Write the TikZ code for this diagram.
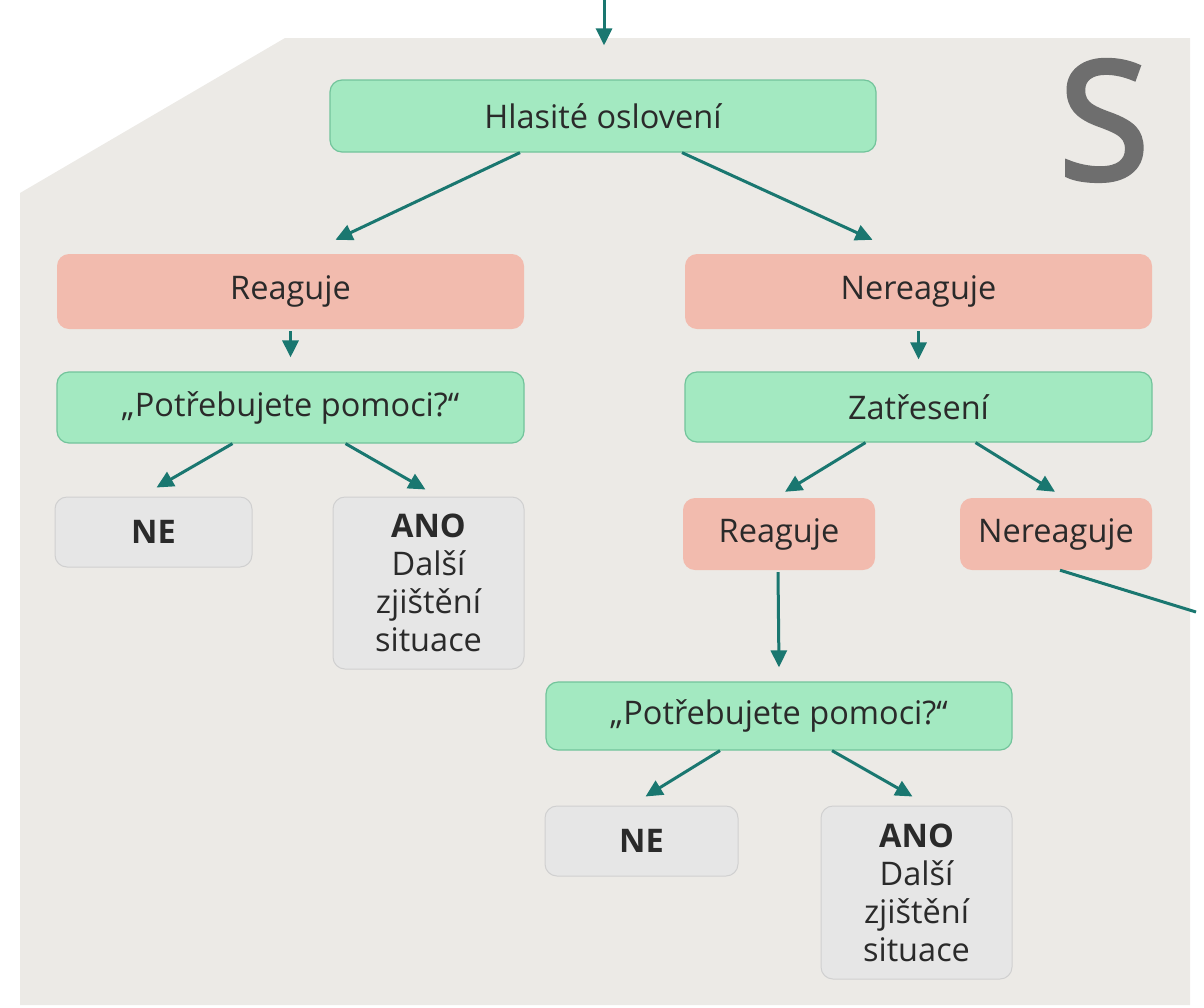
\documentclass[tikz,border=0pt]{standalone}
\usepackage{fontspec}
\setmainfont{Open Sans}
\usetikzlibrary{arrows.meta,calc}
\definecolor{bg}{HTML}{ECEAE6}
\definecolor{gfill}{HTML}{A3E9C1}
\definecolor{gdraw}{HTML}{72C49B}
\definecolor{rfill}{HTML}{F2BBAE}
\definecolor{grfill}{HTML}{E6E6E6}
\definecolor{grdraw}{HTML}{D0D0D0}
\definecolor{tealc}{HTML}{1A7770}
\definecolor{txt}{HTML}{2A2A2A}
\definecolor{sgray}{HTML}{6E6E6E}
\begin{document}
\begin{tikzpicture}[x=1pt,y=-1pt,
  box/.style={rounded corners=12pt, align=center, text=txt, font=\fontsize{32.5}{38}\selectfont, inner sep=0pt},
  gbox/.style={box, fill=gfill, draw=gdraw, line width=1.2pt},
  rbox/.style={box, fill=rfill},
  ybox/.style={box, fill=grfill, draw=grdraw, line width=1pt},
  arr/.style={draw=tealc, line width=3pt, -{Triangle[length=17pt,width=16pt]}},
  ln/.style={draw=tealc, line width=3pt}]
\useasboundingbox (0,0) rectangle (1204,1007);
\fill[bg] (20,193) -- (285,38) -- (1190,38) -- (1190,1005) -- (20,1005) -- cycle;

\node[text=sgray, font=\fontsize{164}{164}\selectfont\addfontfeatures{FakeBold=3}, anchor=base, inner sep=0pt] (S) at (1104,179) {S};

\node[gbox, minimum width=546pt, minimum height=72pt] (hl) at (603,116) {Hlasité oslovení};
\node[rbox, minimum width=467pt, minimum height=75pt] (r1) at (290.5,291.5) {Reaguje};
\node[rbox, minimum width=467pt, minimum height=75pt] (n1) at (918.5,291.5) {Nereaguje};
\node[gbox, minimum width=467pt, minimum height=71pt] (p1) at (290.5,407.5) {„Potřebujete pomoci?“};
\node[gbox, minimum width=467pt, minimum height=70pt] (z) at (918.5,407) {Zatřesení};
\node[ybox, minimum width=197pt, minimum height=70pt] (ne1) at (153.5,532) {\textbf{NE}};
\node[ybox, minimum width=191pt, minimum height=172pt] (ano1) at (428.5,583) {\textbf{ANO}\\Další\\zjištění\\situace};
\node[rbox, minimum width=192pt, minimum height=72pt] (r2) at (779,534) {Reaguje};
\node[rbox, minimum width=192pt, minimum height=72pt] (n2) at (1056,534) {Nereaguje};
\node[gbox, minimum width=466pt, minimum height=68pt] (p2) at (779,716) {„Potřebujete pomoci?“};
\node[ybox, minimum width=193pt, minimum height=70pt] (ne2) at (641.5,841) {\textbf{NE}};
\node[ybox, minimum width=191pt, minimum height=173pt] (ano2) at (916.5,892.5) {\textbf{ANO}\\Další\\zjištění\\situace};

\coordinate (top) at (604,0);
\coordinate (off) at (1196,612);
\draw[arr] (top) -- ($(hl.north)+(1,-34)$);
\draw[arr] ($(hl.south)+(-83,0)$) -- ($(r1.north)+(45,-14)$);
\draw[arr] ($(hl.south)+(79,0)$) -- ($(n1.north)+(-46,-14)$);
\draw[arr] ($(r1.south)+(0,2)$) -- ($(p1.north)+(0,-14)$);
\draw[arr] ($(n1.south)+(0,2)$) -- ($(z.north)+(0,-12)$);
\draw[arr] ($(p1.south)+(-58,0)$) -- ($(ne1.north)+(3,-9)$);
\draw[arr] ($(p1.south)+(55,0)$) -- ($(ano1.north)+(-3,-7)$);
\draw[arr] ($(z.south)+(-53,0)$) -- ($(r2.north)+(6,-6)$);
\draw[arr] ($(z.south)+(57,0)$) -- ($(n2.north)+(-1,-6)$);
\draw[ln] ($(n2.south)+(4,0)$) -- (off);
\draw[arr] ($(r2.south)+(-1,2)$) -- ($(p2.north)+(0,-14)$);
\draw[arr] ($(p2.south)+(-59,0)$) -- ($(ne2.north)+(4,-9)$);
\draw[arr] ($(p2.south)+(53,0)$) -- ($(ano2.north)+(-4,-9)$);
\end{tikzpicture}
\end{document}
